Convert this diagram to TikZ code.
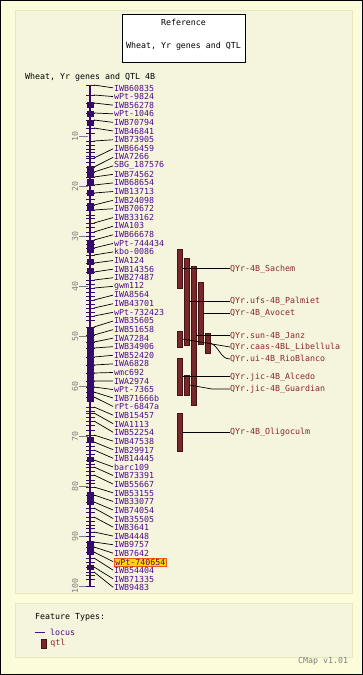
\documentclass[tikz,border=0pt]{standalone}
\usepackage{fontspec}
\setmonofont{DejaVu Sans Mono}
\usetikzlibrary{positioning}

\definecolor{pagebg}{RGB}{252,251,218}
\definecolor{panelbg}{RGB}{245,245,222}
\definecolor{panelrule}{RGB}{232,232,188}
\definecolor{chrcol}{RGB}{55,10,105}
\definecolor{loccol}{RGB}{80,10,140}
\definecolor{qtlfill}{RGB}{120,40,40}
\definecolor{qtlrule}{RGB}{70,20,20}
\definecolor{qtltext}{RGB}{140,40,40}
\definecolor{hlfill}{RGB}{255,215,0}
\definecolor{hlrule}{RGB}{230,90,20}

\begin{document}
\begin{tikzpicture}[x=1pt,y=-1pt]
            \tikzstyle{lbl}=[font=\ttfamily\fontsize{8.3}{9}\selectfont,inner sep=0pt,anchor=west]
            \tikzstyle{mlabel}=[lbl,text=loccol]
            \tikzstyle{qlabel}=[lbl,text=qtltext]
            \tikzstyle{ticklbl}=[font=\ttfamily\fontsize{8.3}{9}\selectfont,inner sep=0pt,text=gray,rotate=90]
            \tikzstyle{qbar}=[fill=qtlfill,draw=qtlrule,line width=0.6pt,minimum width=4.5pt,inner sep=0pt,outer sep=0pt]
            \tikzstyle{link}=[black,line width=0.7pt]
            \tikzset{hl56/.style={fill=hlfill,draw=hlrule,inner sep=1.2pt}}
            \useasboundingbox (0,0) rectangle (363,675);
            % page and panels
            \fill[pagebg] (0,0) rectangle (363,675);
            \draw[black] (0.5,0.5) rectangle (362.5,674.5);
            \filldraw[fill=panelbg,draw=panelrule] (15,10) rectangle (352,593);
            \filldraw[fill=panelbg,draw=panelrule] (15,603) rectangle (352,657);
            % reference box
            \node[draw,fill=white,minimum width=123pt,minimum height=48pt] (refbox) at (183.5,38) {};
            \node[lbl,anchor=center] (reftitle) at (183.5,22) {Reference};
            \node[lbl,anchor=center] (refname) at (183.5,46) {Wheat, Yr genes and QTL};
            \node[lbl] (maptitle) at (25,77) {Wheat, Yr genes and QTL 4B};
            % scale
            \foreach \v in {10,20,...,100} {
                \draw[gray] (79,{86+5*\v}) -- (88,{86+5*\v});
                \node[ticklbl] (t\v) at (75,{86+5*\v}) {\v};
            }
            % chromosome
            \draw[chrcol,line width=2.6pt] (90,85) -- (90,586);
            \foreach \t/\b in {102/108,111/117,120/126,166/177,179/186,190/196,203/211,240/253,259/265,268/274,327/402,437/442,457/462,492/505,541/555,565/570}
                \fill[chrcol] (86.5,\t) rectangle (93.5,\b);
            \foreach \p in {133,145,149,152,156,162,199,215,218,227,236,244,284,292,296,304,312,320,411,417,425,430,446,454,464,471,480,483,512,521,525,528,536,562,575,579,586}
                \draw[chrcol,line width=0.8pt] (86,\p) -- (95,\p);
            % loci
            \foreach \p/\m [count=\i] in {85/IWB60835,95/wPt-9824,103/IWB56278,113/wPt-1046,120/IWB70794,128/IWB46841,141/IWB73905,158/IWB66459,167/IWA7266,172/SBG\_187576,
                    177/IWB74562,185/IWB68654,193/IWB13713,205/IWB24098,210/IWB70672,223/IWB33162,232/IWA103,240/IWB66678,248/wPt-744434,255/kbo-0086,
                    263/IWA124,272/IWB14356,280/IWB27487,288/gwm112,300/IWA8564,308/IWB43701,316/wPt-732423,327/IWB35605,335/IWB51658,342/IWA7284,
                    348/IWB34906,357/IWB52420,365/IWA6828,373/wmc692,381/IWA2974,387/wPt-7365,392/IWB71666b,397/rPt-6847a,407/IWB15457,413/IWA1113,
                    421/IWB52254,435/IWB47538,442/IWB29917,450/IWB14445,460/barc109,467/IWB73391,475/IWB55667,487/IWB53155,495/IWB33077,502/IWB74054,
                    508/IWB35505,517/IWB3641,532/IWB4448,542/IWB9757,547/IWB7642,552/wPt-740654,558/IWB54404,567/IWB71335,572/IWB9483} {
                \coordinate (c\i) at (94,\p);
                \draw[chrcol,line width=0.8pt] (86,\p) -- (95,\p);
                \node[mlabel,hl\i/.try] (m\i) at (114,{88+8.62*(\i-1)}) {\m};
                \draw[link,shorten >=1pt] (c\i) -- (m\i.west);
            }
            % qtl bars
            \foreach \n/\x/\t/\b in {A/180/249/288,B/187/258/345,C/194/266/405,D/201/282/344,E/180/331/347,F/208/333/353,G/180/358/395,H/187/375/395,I/180/413/451}
                \node[qbar,minimum height={\b-\t}] (q\n) at (\x,{(\t+\b)/2}) {};
            \node[qlabel] (sachem) at (230,269) {QYr-4B\_Sachem};
            \node[qlabel] (palmiet) at (230,301) {QYr.ufs-4B\_Palmiet};
            \node[qlabel] (avocet) at (230,313) {QYr-4B\_Avocet};
            \node[qlabel] (janz) at (230,336) {QYr.sun-4B\_Janz};
            \node[qlabel] (libellula) at (230,347) {QYr.caas-4BL\_Libellula};
            \node[qlabel] (rioblanco) at (230,359) {QYr.ui-4B\_RioBlanco};
            \node[qlabel] (alcedo) at (230,377) {QYr.jic-4B\_Alcedo};
            \node[qlabel] (guardian) at (230,389) {QYr.jic-4B\_Guardian};
            \node[qlabel] (oligoculm) at (230,432) {QYr-4B\_Oligoculm};
            \draw[link] (qA.east) -- (qA.east -| sachem.west);
            \draw[link] (qB.east) -- (qB.east -| palmiet.west);
            \draw[link] (qD.east) -- (qD.east -| avocet.west);
            \draw[link] (qC.east) -- (qC.east -| janz.west);
            \draw[link] (qE.east) -- (libellula.west);
            \draw[link] (qF.east) to[out=-20,in=180] (rioblanco.west);
            \draw[link] (qG.east) -- (qG.east -| alcedo.west);
            \draw[link] (qH.east) -- ([xshift=-18pt]guardian.west) -- (guardian.west);
            \draw[link] (qI.east) -- (qI.east -| oligoculm.west);
            % legend
            \node[lbl] (legtitle) at (35,617) {Feature Types:};
            \coordinate (locA) at (35,632);
            \coordinate (locB) at (45,632);
            \draw[loccol,line width=0.8pt] (locA) -- (locB);
            \node[mlabel,right=5pt of locB] (leglocus) {locus};
            \node[qbar,minimum height=9pt] (legbar) at (44,643.5) {};
            \node[qlabel,right=4pt of legbar] (legqtl) {qtl};
            \node[lbl,text=gray] (version) at (298,661) {CMap v1.01};
\end{tikzpicture}
\end{document}
